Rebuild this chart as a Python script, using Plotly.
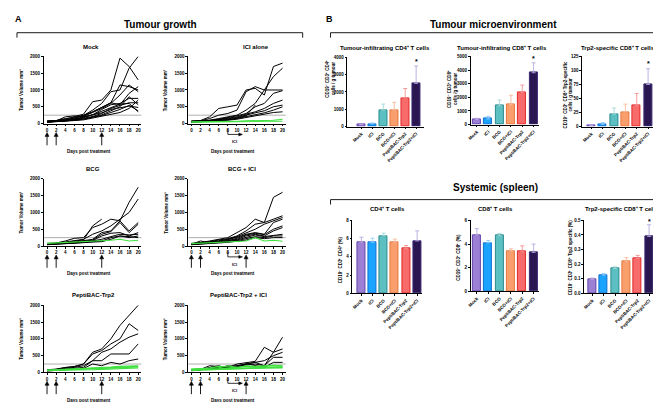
import plotly.graph_objects as go

W, H = 661, 402
def fx(p): return p / W
def fy(p): return 1 - p / H

FONT = "Liberation Sans, Arial, sans-serif"

# ---------------- data ----------------
days = [0, 2, 4, 6, 8, 10, 12, 14, 16, 18, 20]

mock_black = [
    [80, 90, 130, 200, 280, 650, 700, 1000, 1950, 1700, 1300],
    [70, 90, 150, 180, 240, 400, 600, 950, 1000, 1650, 2000],
    [70, 80, 100, 150, 240, 350, 480, 620, 1150, 1100, 1000],
    [60, 80, 110, 170, 220, 330, 450, 600, 850, 1150, 950],
    [60, 70, 90, 120, 180, 260, 420, 560, 600, 750, 750],
    [55, 70, 100, 140, 180, 260, 360, 480, 580, 600, 350],
    [50, 60, 80, 110, 150, 210, 300, 450, 540, 620, 620],
    [50, 60, 70, 100, 130, 190, 260, 380, 500, 800, 560],
    [45, 60, 80, 110, 200, 260, 320, 420, 460, 520, 480],
    [40, 50, 60, 90, 110, 160, 220, 280, 330, 450, 700],
    [40, 55, 70, 100, 140, 180, 240, 330, 420, 540, 380],
    [60, 80, 200, 230, 210, 350, 500, 620, 560, 900, 1100],
]
mock_green = []

ici_black = [
    [80, 90, 200, 450, 500, 550, 1000, 1050, 850, 1700, 1800],
    [70, 80, 150, 250, 300, 400, 950, 1100, 1000, 1400, 1650],
    [60, 80, 100, 150, 200, 250, 400, 600, 1000, 1000, 1000],
    [60, 70, 90, 130, 170, 230, 300, 500, 600, 900, 980],
    [50, 60, 80, 120, 150, 200, 280, 350, 450, 600, 700],
    [50, 70, 90, 110, 140, 180, 260, 320, 380, 500, 550],
    [50, 60, 70, 90, 110, 150, 200, 260, 320, 400, 500],
    [40, 50, 70, 90, 120, 160, 230, 550, None, None, None],
    [40, 50, 60, 80, 100, 130, 180, 230, 280, 330, 350],
]
ici_green = [
    [50, 50, 60, 60, 70, 70, 80, 80, 90, 100, 130],
    [40, 40, 50, 50, 50, 60, 60, 60, 70, 60, 70],
]

bcg_black = [
    [80, 90, 150, 230, 250, 550, 650, 800, 750, 1300, 1750],
    [70, 80, 120, 160, 200, 350, 450, 600, 800, 1000, 1400],
    [60, 70, 100, 150, 180, 600, 800, None, None, None, None],
    [60, 70, 90, 120, 160, 200, 400, 450, 750, 450, 700],
    [50, 60, 80, 100, 140, 180, 350, 430, 700, 400, 650],
    [50, 60, 80, 100, 130, 160, 300, 380, 400, 300, 400],
    [40, 50, 70, 90, 110, 150, 200, 280, 350, 330, 350],
    [40, 50, 60, 80, 100, 130, 150, 250, 300, 250, 300],
    [60, 70, 80, 100, 110, 120, 130, 200, 300, 280, 250],
]
bcg_green = [
    [80, 90, 100, 110, 120, 130, 150, 170, 200, 150, 170],
]

bcgici_black = [
    [80, 100, 150, 200, 250, 400, 550, 800, 700, 1450, 1600],
    [70, 90, 130, 180, 220, 300, 450, 650, 700, 800, 900],
    [60, 80, 120, 150, 200, 280, 400, 500, 650, 750, 850],
    [60, 80, 110, 150, 190, 260, 350, 400, 350, 700, 800],
    [50, 70, 100, 130, 160, 230, 330, 380, 340, 500, 600],
    [50, 60, 90, 120, 150, 200, 300, 350, 300, 450, 550],
    [40, 60, 80, 100, 130, 180, 260, 330, 280, 320, 350],
    [50, 150, 100, 110, 130, 160, 220, 280, 250, 300, 300],
    [40, 50, 70, 90, 110, 140, 180, 250, 220, 250, 250],
]
bcgici_green = [
    [70, 80, 90, 100, 110, 120, 150, 250, 150, 170, 140],
]

pt_black = [
    [80, 100, 150, 180, 250, 600, 700, 1000, 1400, 1700, 2000],
    [70, 90, 140, 170, 250, 550, 650, 850, 1000, 1450, 1250],
    [60, 80, 120, 150, 200, 350, 600, 700, 900, 1050, 1150],
    [50, 70, 100, 120, 150, 350, 350, 550, 550, 550, 850],
    [40, 60, 80, 100, 120, 250, 200, 300, 250, 350, 400],
]
pt_green = [
    [70, 80, 90, 100, 110, 120, 140, 160, 180, 190, 200],
    [60, 70, 80, 90, 100, 110, 120, 140, 150, 160, 180],
    [50, 60, 70, 80, 90, 100, 110, 120, 140, 150, 160],
    [60, 60, 70, 70, 80, 80, 90, 100, 110, 120, 130],
]

ptici_black = [
    [80, 100, 120, 150, 180, 200, 250, 300, 200, 600, 1050],
    [70, 90, 200, 180, 150, 250, 280, 330, 750, 600, 700],
    [60, 80, 100, 120, 150, 200, 250, 280, 350, 500, 600],
    [50, 70, 150, 200, 120, 180, 220, 250, 200, 450, 450],
    [60, 80, 100, 130, 200, 150, 260, 200, 150, 300, 300],
]
ptici_green = [
    [100, 110, 130, 180, 150, 140, 200, 180, 200, 220, 200],
    [90, 100, 120, 140, 200, 150, 180, 160, 180, 200, 190],
    [80, 90, 100, 120, 130, 120, 150, 140, 160, 180, 170],
    [70, 80, 90, 100, 110, 100, 120, 130, 140, 150, 150],
    [60, 70, 80, 90, 100, 110, 100, 120, 130, 140, 130],
]

growth_titles = ["Mock", "ICI alone", "BCG", "BCG + ICI", "PeptiBAC-Trp2", "PeptiBAC-Trp2 + ICI"]
growth_pct = ["0%", "18%", "10%", "9%", "44%", "50%"]
growth_black = [mock_black, ici_black, bcg_black, bcgici_black, pt_black, ptici_black]
growth_green = [mock_green, ici_green, bcg_green, bcgici_green, pt_green, ptici_green]
vol_ticks = [0, 500, 1000, 1500, 2000]
treat_days = [0, 2, 12]

groups = ["Mock", "ICI", "BCG", "BCG+ICI", "PeptiBAC-Trp2", "PeptiBAC-Trp2+ICI"]
tum_cd4 = [100, 150, 950, 950, 1650, 2500]
tum_cd4_err = [30, 60, 350, 450, 550, 1000]
tum_cd8 = [380, 420, 1370, 1470, 2370, 3800]
tum_cd8_err = [80, 180, 430, 680, 530, 730]
tum_trp2 = [2, 4, 22, 26, 37, 75]
tum_trp2_err = [1, 3, 11, 14, 22, 28]
spl_cd4 = [5.6, 5.6, 6.3, 5.6, 4.9, 5.75]
spl_cd4_err = [0.55, 0.45, 0.3, 0.35, 0.35, 1.1]
spl_cd8 = [4.75, 4.1, 4.7, 3.4, 3.35, 3.3]
spl_cd8_err = [0.55, 0.2, 0.2, 0.2, 0.5, 0.7]
spl_trp2 = [0.095, 0.125, 0.17, 0.22, 0.24, 0.39]
spl_trp2_err = [0.01, 0.012, 0.012, 0.025, 0.02, 0.08]

fill_cols = ["#9b80d3", "#1aa3ff", "#5cbfc1", "#f99f6e", "#f76b6b", "#2a1752"]
line_cols = ["#6544ad", "#1070d0", "#2b8b8d", "#e8763a", "#e32727", "#3b2a72"]
err_cols = ["#b8a6e0", "#8ccfff", "#a0d8d8", "#f8b898", "#f59090", "#b5a9e0"]

fig = go.Figure()
layout = {}
annotations = []
shapes = []

def ax_name(i, kind):
    return f"{kind}axis" if i == 1 else f"{kind}axis{i}"

def ref(i, kind):
    return kind if i == 1 else f"{kind}{i}"

axis_common = dict(showline=True, linecolor="black", linewidth=0.8, ticks="outside",
                   ticklen=2, tickwidth=0.8, tickcolor="black", showgrid=False,
                   zeroline=False, fixedrange=True,
                   tickfont=dict(family=FONT, size=4.5, color="black", weight="bold"))

def txt(x, y, s, size=5, angle=0, xanchor="center", yanchor="middle", color="black"):
    annotations.append(dict(x=fx(x), y=fy(y), xref="paper", yref="paper", text=s,
                            showarrow=False, textangle=angle, xanchor=xanchor, yanchor=yanchor,
                            font=dict(family=FONT, size=size, color=color, weight="bold")))

def seg(xr, x0, x1, y0, y1, w=0.9):
    shapes.append(dict(type="line", xref=xr, yref="paper", x0=x0, x1=x1, y0=y0, y1=y1,
                       line=dict(color="black", width=w)))

def tri(xr, pts):
    path = "M " + " L ".join(f"{a},{b}" for a, b in pts) + " Z"
    shapes.append(dict(type="path", xref=xr, yref="paper", path=path,
                       fillcolor="black", line=dict(color="black", width=0.5)))

# ---------------- spaghetti panels ----------------
cols_px = [(33, 131), (178, 276)]
rows_px = [(47, 115), (171, 239), (299, 367)]
title_x = [80, 246, 82, 232, 83, 229]
arrows_on = [True, False, True, True, True, True]
ici_on = [False, True, False, True, False, True]

for p in range(6):
    i = p + 1
    c, r = p % 2, p // 2
    L, R = cols_px[c]
    T, B = rows_px[r]
    xr, yr = ref(i, "x"), ref(i, "y")
    layout[ax_name(i, "x")] = dict(axis_common, domain=[fx(L), fx(R)], range=[-0.7, 20.7],
                                   tickvals=days, anchor=yr)
    layout[ax_name(i, "y")] = dict(axis_common, domain=[fy(B), fy(T)], range=[0, 2000],
                                   tickvals=vol_ticks, anchor=xr)
    for ln in growth_black[p]:
        fig.add_trace(go.Scatter(x=days, y=ln, mode="lines", line=dict(color="black", width=1),
                                 xaxis=xr, yaxis=yr, showlegend=False, hoverinfo="skip"))
    for ln in growth_green[p]:
        fig.add_trace(go.Scatter(x=days, y=ln, mode="lines", line=dict(color="#3ee03e", width=1.1),
                                 xaxis=xr, yaxis=yr, showlegend=False, hoverinfo="skip"))
    shapes.append(dict(type="line", xref=xr, yref=yr, x0=-0.7, x1=21.0, y0=250, y1=250,
                       line=dict(color="#9a9a9a", width=0.8), layer="below"))
    annotations.append(dict(x=21.3, y=250, xref=xr, yref=yr, text=growth_pct[p], showarrow=False,
                            xanchor="left", yanchor="middle",
                            font=dict(family=FONT, size=5, color="black", weight="bold")))
    txt(title_x[p], T - 10, growth_titles[p], size=6)
    txt(L - 22, (T + B) / 2, "Tumor Volume mm³", size=4.5, angle=-90)
    txt((L + R) / 2 - 4, B + 28, "Days post treatment", size=4.5)
    if arrows_on[p]:
        for d in treat_days:
            seg(xr, d, d, fy(B + 22), fy(B + 12))
            tri(xr, [(d - 0.45, fy(B + 13)), (d, fy(B + 9)), (d + 0.45, fy(B + 13))])
    if ici_on[p]:
        seg(xr, 8, 8, fy(B + 6), fy(B + 11), 0.8)
        seg(xr, 8, 10.6, fy(B + 11), fy(B + 11), 0.8)
        tri(xr, [(10.4, fy(B + 9.5)), (11.2, fy(B + 11)), (10.4, fy(B + 12.5))])
        annotations.append(dict(x=9.4, y=fy(B + 14), xref=xr, yref="paper", text="ICI",
                                showarrow=False, yanchor="top",
                                font=dict(family=FONT, size=4, color="black", weight="bold")))

# ---------------- bar panels ----------------
bar_panels = [
    (338, 352, 407, 415, 48, 118, 4000, [0, 1000, 2000, 3000, 4000], tum_cd4, tum_cd4_err, 3750,
     "Tumour-infiltrating CD4⁺ T cells", (376, 38), "CD19⁻ CD3⁺ CD4⁺<br>cells / g tumour", (321, 70)),
    (462, 468, 525, 530, 47, 116, 5000, [0, 1000, 2000, 3000, 4000, 5000], tum_cd8, tum_cd8_err, 4850,
     "Tumour-infiltrating CD8⁺ T cells", (493, 38), "CD19⁻ CD3⁺ CD8⁺<br>cells /g tumour", (443, 80)),
    (574, 583, 640, 645, 47, 118, 125, [0, 25, 50, 75, 100, 125], tum_trp2, tum_trp2_err, 112,
     "Trp2-specific CD8⁺ T cells", (610, 38), "CD19⁻ CD3⁺ CD8⁺ Trp2-specific<br>cells / g tumour", (560, 85)),
    (343, 352, 408, 413, 213, 287, 8, [0, 2, 4, 6, 8], spl_cd4, spl_cd4_err, None,
     "CD4⁺ T cells", (378, 202), "CD19⁻ CD3⁺ CD4⁺ (%)", (331, 253)),
    (462, 468, 525, 530, 213, 285, 6, [0, 2, 4, 6], spl_cd8, spl_cd8_err, None,
     "CD8⁺ T cells", (487, 202), "CD19⁻ CD3⁺ CD8⁺ (%)", (450, 250)),
    (576, 584, 641, 646, 213, 287, 0.5, [0.0, 0.1, 0.2, 0.3, 0.4, 0.5], spl_trp2, spl_trp2_err, 0.49,
     "Trp2-specific CD8⁺ T cells", (614, 202), "CD19⁻ CD3⁺ CD8⁺ Trp2 specific (%)", (562, 250)),
]

for b, bp in enumerate(bar_panels):
    (y0px, f0, f5, rpx, tpx, bpx, ymax, yt, vals, errs, star, title, tpos, ytitle, ypos) = bp
    i = 7 + b
    xr, yr = ref(i, "x"), ref(i, "y")
    step = (f5 - f0) / 5
    xrng = [(y0px - f0) / step, (rpx - f0) / step]
    ticktext = ["%.1f" % v for v in yt] if ymax < 1 else [str(v) for v in yt]
    layout[ax_name(i, "x")] = dict(axis_common, domain=[fx(y0px), fx(rpx)], range=xrng,
                                   tickvals=list(range(6)), ticktext=groups, tickangle=-45,
                                   anchor=yr)
    layout[ax_name(i, "y")] = dict(axis_common, domain=[fy(bpx), fy(tpx)], range=[0, ymax],
                                   tickvals=yt, ticktext=ticktext, anchor=xr)
    for k in range(6):
        fig.add_trace(go.Bar(x=[k], y=[vals[k]], width=0.72, xaxis=xr, yaxis=yr,
                             marker=dict(color=fill_cols[k], line=dict(color=line_cols[k], width=1)),
                             error_y=dict(type="data", array=[errs[k]], arrayminus=[0],
                                          symmetric=False, color=err_cols[k], thickness=0.9, width=2),
                             showlegend=False, hoverinfo="skip"))
    if star is not None:
        annotations.append(dict(x=5, y=star, xref=xr, yref=yr, text="*", showarrow=False,
                                yanchor="middle",
                                font=dict(family=FONT, size=7, color="black", weight="bold")))
    txt(tpos[0], tpos[1], title, size=6)
    txt(ypos[0], ypos[1], ytitle, size=4.5, angle=-90)

# ---------------- headings and brackets ----------------
txt(8, 9, "A", size=9)
txt(320, 9, "B", size=9)
txt(150, 15, "Tumour growth", size=10)
txt(485, 15, "Tumour microenvironment", size=10)
txt(487, 180, "Systemic (spleen)", size=10)

def bracket(xa, xb, y):
    for (a0, a1, b0, b1) in [(xa, xb, y, y), (xa, xa, y, y + 5), (xb, xb, y, y + 5)]:
        shapes.append(dict(type="line", xref="paper", yref="paper", x0=fx(a0), x1=fx(a1),
                           y0=fy(b0), y1=fy(b1), line=dict(color="black", width=0.9)))

bracket(6, 293, 23)
bracket(321, 657, 23)
bracket(321, 657, 192)

fig.update_layout(**layout)
fig.update_layout(width=W, height=H, margin=dict(l=0, r=0, t=0, b=0),
                  paper_bgcolor="white", plot_bgcolor="white", bargap=0,
                  annotations=annotations, shapes=shapes,
                  font=dict(family=FONT, color="black"))
fig.write_html("out.html")
